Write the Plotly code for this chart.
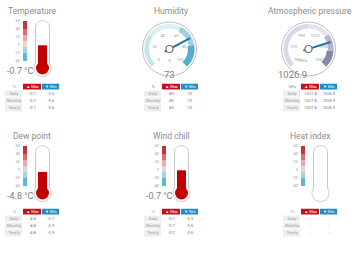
import math
import plotly.graph_objects as go

W, H = 360, 253
FONT = "Roboto"
COL_X = [0, 139, 278]
ROW_Y = [0, 125]

# ---------------- data ----------------
panel_titles = ["Temperature", "Humidity", "Atmospheric pressure",
                "Dew point", "Wind chill", "Heat index"]
row_labels = ["Daily", "Monthly", "Yearly"]
table_columns = ["▲ Max", "▼ Min"]

temp_current = -0.7
temp_max = [-0.7, -0.7, -0.7]
temp_min = [-3.5, -3.6, -3.6]

dew_current = -4.8
dew_max = [-4.8, -4.8, -4.8]
dew_min = [-5.7, -5.9, -5.9]

chill_current = -0.7
chill_max = [-0.7, -0.7, -0.7]
chill_min = [-3.5, -3.6, -3.6]

heat_current = None
heat_max = [None, None, None]
heat_min = [None, None, None]

humidity_current = 73
humidity_max = [83, 83, 83]
humidity_min = [73, 73, 73]
humidity_ticks = [0, 20, 40, 60, 80, 100]
humidity_band_edges = [0, 30, 60, 80, 100]
humidity_band_colors = ["#c9e4ee", "#d9eef5", "#9fd0e2", "#5aaccc"]

pressure_current = 1026.9
pressure_max = [1027.8, 1027.8, 1027.8]
pressure_min = [1026.9, 1026.9, 1026.9]
pressure_ticks = [950, 970, 990, 1010, 1030, 1050]
pressure_band_edges = [950, 1000, 1020, 1035, 1050]
pressure_band_colors = ["#d8d8e6", "#e3e3ee", "#b4b4cd", "#8787ab"]

thermo_ticks = [60, 40, 20, 0, -20, -40]
thermo_scale_edges = [60, 40, 25, 10, -5, -20, -40]
thermo_scale_colors = ["#c6323c", "#dc6e76", "#eba7aa", "#efd2cd", "#9fd6e6", "#5db8d3"]

RED = "#c3121c"
BLUE = "#1d8ec6"
MERCURY = "#c20000"
NEEDLE = "#1c76ad"

fig = go.Figure()
shapes = []
annotations = []
axis_counter = [0]


def px(x):
    return x / W


def py(y):
    return 1 - y / H


def fmt(v, nd=1):
    if v is None:
        return "-"
    return f"{v:.{nd}f}" if nd > 0 else f"{v:d}"


def new_axes():
    axis_counter[0] += 1
    k = axis_counter[0]
    xa = "xaxis" if k == 1 else f"xaxis{k}"
    ya = "yaxis" if k == 1 else f"yaxis{k}"
    xr = "x" if k == 1 else f"x{k}"
    yr = "y" if k == 1 else f"y{k}"
    return xa, ya, xr, yr


def add_title(col, row, text):
    x0, y0 = COL_X[col], ROW_Y[row]
    annotations.append(dict(x=px(x0 + 32), y=py(y0 + 11), xref="paper", yref="paper",
                            text=text, showarrow=False, xanchor="center", yanchor="middle",
                            font=dict(family=FONT, size=8.5, color="#8c8c8c")))


def add_table(col, row, unit, maxv, minv, nd=1):
    x0, y0 = COL_X[col], ROW_Y[row]
    xa, ya, xr, yr = new_axes()
    cols = ["unit"] + table_columns
    rows = ["head"] + row_labels
    fig.update_layout(**{
        xa: dict(domain=[px(x0 + 5), px(x0 + 60)], type="category", categoryarray=cols,
                 visible=False, fixedrange=True, anchor=yr),
        ya: dict(domain=[py(y0 + 112), py(y0 + 83.5)], type="category", categoryarray=rows,
                 autorange="reversed", visible=False, fixedrange=True, anchor=xr),
    })
    # cell backgrounds: 0 white, 1 grey label, 2 red header, 3 blue header
    z = [[0, 2, 3]] + [[1, 0, 0] for _ in row_labels]
    fig.add_trace(go.Heatmap(
        x=cols, y=rows, z=z, zmin=0, zmax=3, xgap=1, ygap=1, showscale=False,
        colorscale=[[0, "white"], [1 / 3, "#eeeeee"], [2 / 3, RED], [1, BLUE]],
        xaxis=xr, yaxis=yr, hoverinfo="skip"))
    fig.add_trace(go.Scatter(
        x=cols, y=["head"] * 3, mode="text", text=[unit] + table_columns,
        textfont=dict(family=FONT, size=4, color=["#888888", "white", "white"]),
        xaxis=xr, yaxis=yr, showlegend=False, hoverinfo="skip", cliponaxis=False))
    fig.add_trace(go.Scatter(
        x=["unit"] * 3 + [table_columns[0]] * 3 + [table_columns[1]] * 3,
        y=row_labels * 3, mode="text",
        text=row_labels + [fmt(v, nd) for v in maxv] + [fmt(v, nd) for v in minv],
        textfont=dict(family=FONT, size=4, color=["#9a9a9a"] * 3 + ["#707070"] * 6),
        xaxis=xr, yaxis=yr, showlegend=False, hoverinfo="skip", cliponaxis=False))


def add_thermo(col, row, value):
    x0, y0 = COL_X[col], ROW_Y[row]
    xa, ya, xr, yr = new_axes()

    def pix2val(p):  # axis scale: 0 at local pixel 45, 20 units per 8 px
        return (45 - p) * 2.5

    fig.update_layout(**{
        xa: dict(domain=[px(x0 + 22), px(x0 + 58)], range=[22, 58], visible=False,
                 fixedrange=True, anchor=yr),
        ya: dict(domain=[py(y0 + 80), py(y0 + 14)], range=[pix2val(80), pix2val(14)],
                 tickvals=thermo_ticks, ticktext=[str(t) for t in thermo_ticks],
                 tickfont=dict(family=FONT, size=4, color="#a0a0a0"),
                 showgrid=False, zeroline=False, showline=False, ticks="",
                 ticklabelstandoff=1, fixedrange=True, anchor=xr),
    })
    lows = thermo_scale_edges[1:]
    highs = thermo_scale_edges[:-1]
    fig.add_trace(go.Bar(x=[25] * len(lows), y=[h - l for h, l in zip(highs, lows)], base=lows,
                         width=4, marker=dict(color=thermo_scale_colors, line=dict(width=0)),
                         xaxis=xr, yaxis=yr, showlegend=False, hoverinfo="skip"))
    cx, half, cap_y, bcy, bR = x0 + 42.5, 7.0, y0 + 27.5, y0 + 68, 8.5
    dy = math.sqrt(bR ** 2 - half ** 2)
    pts = [(cx - half, bcy - dy), (cx - half, cap_y)]
    for i in range(0, 25):
        a = math.radians(180 - i * 180 / 24)
        pts.append((cx + half * math.cos(a), cap_y - half * math.sin(a)))
    pts.append((cx + half, bcy - dy))
    b0 = math.degrees(math.asin(dy / bR))
    b1 = -180 - b0
    for i in range(0, 41):
        b = math.radians(b0 + (b1 - b0) * i / 40)
        pts.append((cx + bR * math.cos(b), bcy - bR * math.sin(b)))
    path = "M " + " L ".join(f"{px(x):.5f},{py(y):.5f}" for x, y in pts) + " Z"
    shapes.append(dict(type="path", path=path, xref="paper", yref="paper", layer="below",
                       fillcolor="white", line=dict(color="#c8c8c8", width=1)))
    if value is not None:
        base = pix2val(68)
        fig.add_trace(go.Bar(x=[42.5], y=[value - base], base=[base], width=9,
                             marker=dict(color=MERCURY, line=dict(width=0)),
                             xaxis=xr, yaxis=yr, showlegend=False, hoverinfo="skip"))
        r = 6.5
        shapes.append(dict(type="circle", xref="paper", yref="paper",
                           x0=px(cx - r), x1=px(cx + r), y0=py(bcy + r), y1=py(bcy - r),
                           fillcolor=MERCURY, line=dict(width=0), layer="above"))
        annotations.append(dict(x=px(x0 + 5), y=py(y0 + 71), xref="paper", yref="paper",
                                text=f"{value:.1f} °C", showarrow=False, xanchor="left",
                                yanchor="middle",
                                font=dict(family=FONT, size=9, color="#808080")))


def add_gauge(idx, col, row, vmin, vmax, ticks, edges, colors, value, unit, vtext):
    x0, y0 = COL_X[col], ROW_Y[row]
    cx, cy, R = x0 + 30.5, y0 + 49, 27
    pname = "polar" if idx == 1 else f"polar{idx}"

    def deg(v):
        return (v - vmin) / (vmax - vmin) * 270.0

    lows, highs = edges[:-1], edges[1:]
    inner = [0.76, 0.76, 0.72, 0.68]
    outer = 0.93
    fig.add_trace(go.Barpolar(
        r=[outer - b for b in inner], base=inner,
        theta=[deg((a + b) / 2) for a, b in zip(lows, highs)],
        width=[deg(b) - deg(a) for a, b in zip(lows, highs)],
        marker=dict(color=colors, line=dict(width=0)),
        subplot=pname, showlegend=False, hoverinfo="skip"))
    fig.add_trace(go.Scatterpolar(
        r=[0.56] * len(ticks), theta=[deg(t) for t in ticks], mode="text",
        text=[str(t) for t in ticks],
        textfont=dict(family=FONT, size=4, color="#9a9a9a"),
        subplot=pname, showlegend=False, hoverinfo="skip"))
    fig.add_trace(go.Scatterpolar(
        r=[0.2, 0.86], theta=[deg(value) + 180, deg(value)], mode="lines",
        line=dict(color=NEEDLE, width=2),
        subplot=pname, showlegend=False, hoverinfo="skip"))
    fig.add_trace(go.Scatterpolar(
        r=[0], theta=[0], mode="markers",
        marker=dict(size=7, color="white", line=dict(color="#777777", width=1.2)),
        subplot=pname, showlegend=False, hoverinfo="skip"))
    fig.update_layout(**{pname: dict(
        domain=dict(x=[px(cx - R), px(cx + R)], y=[py(cy + R), py(cy - R)]),
        bgcolor="rgba(0,0,0,0)",
        angularaxis=dict(rotation=225, direction="clockwise", showline=True,
                         linecolor="#bdbdbd", linewidth=1, showgrid=False,
                         showticklabels=False, ticks=""),
        radialaxis=dict(visible=False, range=[0, 1]),
    )})
    annotations.append(dict(x=px(cx), y=py(cy + 7), xref="paper", yref="paper", text=unit,
                            showarrow=False, font=dict(family=FONT, size=4, color="#999999")))
    annotations.append(dict(x=px(cx), y=py(cy + 18), xref="paper", yref="paper", text=vtext,
                            showarrow=False, font=dict(family=FONT, size=9.5, color="#808080")))


# ---- build panels ----
for i, t in enumerate(panel_titles):
    add_title(i % 3, i // 3, t)

add_thermo(0, 0, temp_current)
add_thermo(0, 1, dew_current)
add_thermo(1, 1, chill_current)
add_thermo(2, 1, heat_current)

add_gauge(1, 1, 0, 0, 100, humidity_ticks, humidity_band_edges, humidity_band_colors,
          humidity_current, "%", str(humidity_current))
add_gauge(2, 2, 0, 950, 1050, pressure_ticks, pressure_band_edges, pressure_band_colors,
          pressure_current, "hPa", f"{pressure_current:.1f}")

add_table(0, 0, "°C", temp_max, temp_min)
add_table(1, 0, "%", humidity_max, humidity_min, nd=0)
add_table(2, 0, "hPa", pressure_max, pressure_min)
add_table(0, 1, "°C", dew_max, dew_min)
add_table(1, 1, "°C", chill_max, chill_min)
add_table(2, 1, "°C", heat_max, heat_min)

fig.update_layout(
    width=W, height=H, margin=dict(l=0, r=0, t=0, b=0),
    paper_bgcolor="white", plot_bgcolor="rgba(0,0,0,0)",
    barmode="overlay", showlegend=False, hovermode=False,
    shapes=shapes, annotations=annotations,
    font=dict(family=FONT),
)

fig.write_html("out.html", config={"displayModeBar": False})
